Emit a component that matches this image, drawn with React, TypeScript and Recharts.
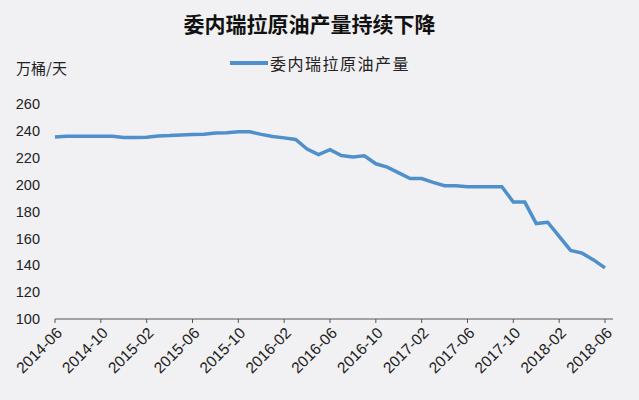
import React from 'react';
import { LineChart, Line, XAxis, YAxis } from 'recharts';

const months = [
  '2014-06', '2014-07', '2014-08', '2014-09', '2014-10', '2014-11', '2014-12',
  '2015-01', '2015-02', '2015-03', '2015-04', '2015-05', '2015-06', '2015-07', '2015-08', '2015-09', '2015-10', '2015-11', '2015-12',
  '2016-01', '2016-02', '2016-03', '2016-04', '2016-05', '2016-06', '2016-07', '2016-08', '2016-09', '2016-10', '2016-11', '2016-12',
  '2017-01', '2017-02', '2017-03', '2017-04', '2017-05', '2017-06', '2017-07', '2017-08', '2017-09', '2017-10', '2017-11', '2017-12',
  '2018-01', '2018-02', '2018-03', '2018-04', '2018-05', '2018-06',
];

// 万桶/天
const output = [
  235.5, 236, 236, 236, 236, 236, 235,
  235, 235.2, 236.2, 236.5, 237, 237.3, 237.5, 238.5, 238.6, 239.4, 239.3, 237.4,
  235.8, 234.8, 233.6, 226.5, 222.3, 226, 221.7, 220.5, 221.5, 215.5, 213, 208.7,
  204.5, 204.5, 201.7, 199.2, 199.2, 198.4, 198.4, 198.4, 198.4, 187, 187, 171,
  172, 161.5, 151, 149, 144, 138,
];

const yTicks = [100, 120, 140, 160, 180, 200, 220, 240, 260];

const SERIES_NAME = '委内瑞拉原油产量';
const BG = '#f1f1f3';
const BLUE = '#4f8fcb';

const data = months.map((m, i) => ({ month: m, value: output[i] }));

const DateTick = (props: any) => {
  const { x, y, payload } = props;
  const px = x + 8;
  const py = y + 9;
  return (
    <text
      x={px}
      y={py}
      transform={`rotate(-45, ${px}, ${py})`}
      textAnchor="end"
      fontSize={15.5}
      fill="#222"
      fontFamily="'Liberation Sans', Arial, sans-serif"
    >
      {payload.value}
    </text>
  );
};

export default function App() {
  return (
    <div style={{ position: 'fixed', left: 0, top: 0, width: 639, height: 400, background: BG, fontFamily: "'Noto Sans CJK SC', sans-serif" }}>
      <div style={{ position: 'absolute', left: 0, top: 9, width: 619, textAlign: 'center', fontSize: 21, fontWeight: 700, color: '#111', lineHeight: '28px' }}>
        委内瑞拉原油产量持续下降
      </div>
      <div style={{ position: 'absolute', left: 16, top: 57, fontSize: 15, color: '#222', lineHeight: '22px' }}>
        万桶/天
      </div>
      <div style={{ position: 'absolute', left: 230, top: 51, display: 'flex', alignItems: 'center', lineHeight: '24px' }}>
        <div style={{ width: 38, height: 4, background: BLUE, marginRight: 2 }} />
        <span style={{ fontSize: 16, color: '#222', letterSpacing: 1.5 }}>{SERIES_NAME}</span>
      </div>
      <LineChart width={639} height={400} data={data} margin={{ top: 104, right: 26, bottom: 11, left: 10 }}>
        <XAxis
          dataKey="month"
          interval={3}
          padding={{ left: 0, right: 8 }}
          height={70}
          stroke="#555"
          tickSize={4}
          tick={<DateTick />}
        />
        <YAxis
          domain={[100, 260]}
          ticks={yTicks}
          width={45}
          axisLine={false}
          tickLine={false}
          tickSize={6}
          tickMargin={9}
          tick={{ fontSize: 14.5, fill: '#222', fontFamily: "'Liberation Sans', Arial, sans-serif" }}
        />
        <Line
          type="linear"
          dataKey="value"
          name={SERIES_NAME}
          stroke={BLUE}
          strokeWidth={3.5}
          dot={false}
          activeDot={false}
          isAnimationActive={false}
        />
      </LineChart>
    </div>
  );
}
